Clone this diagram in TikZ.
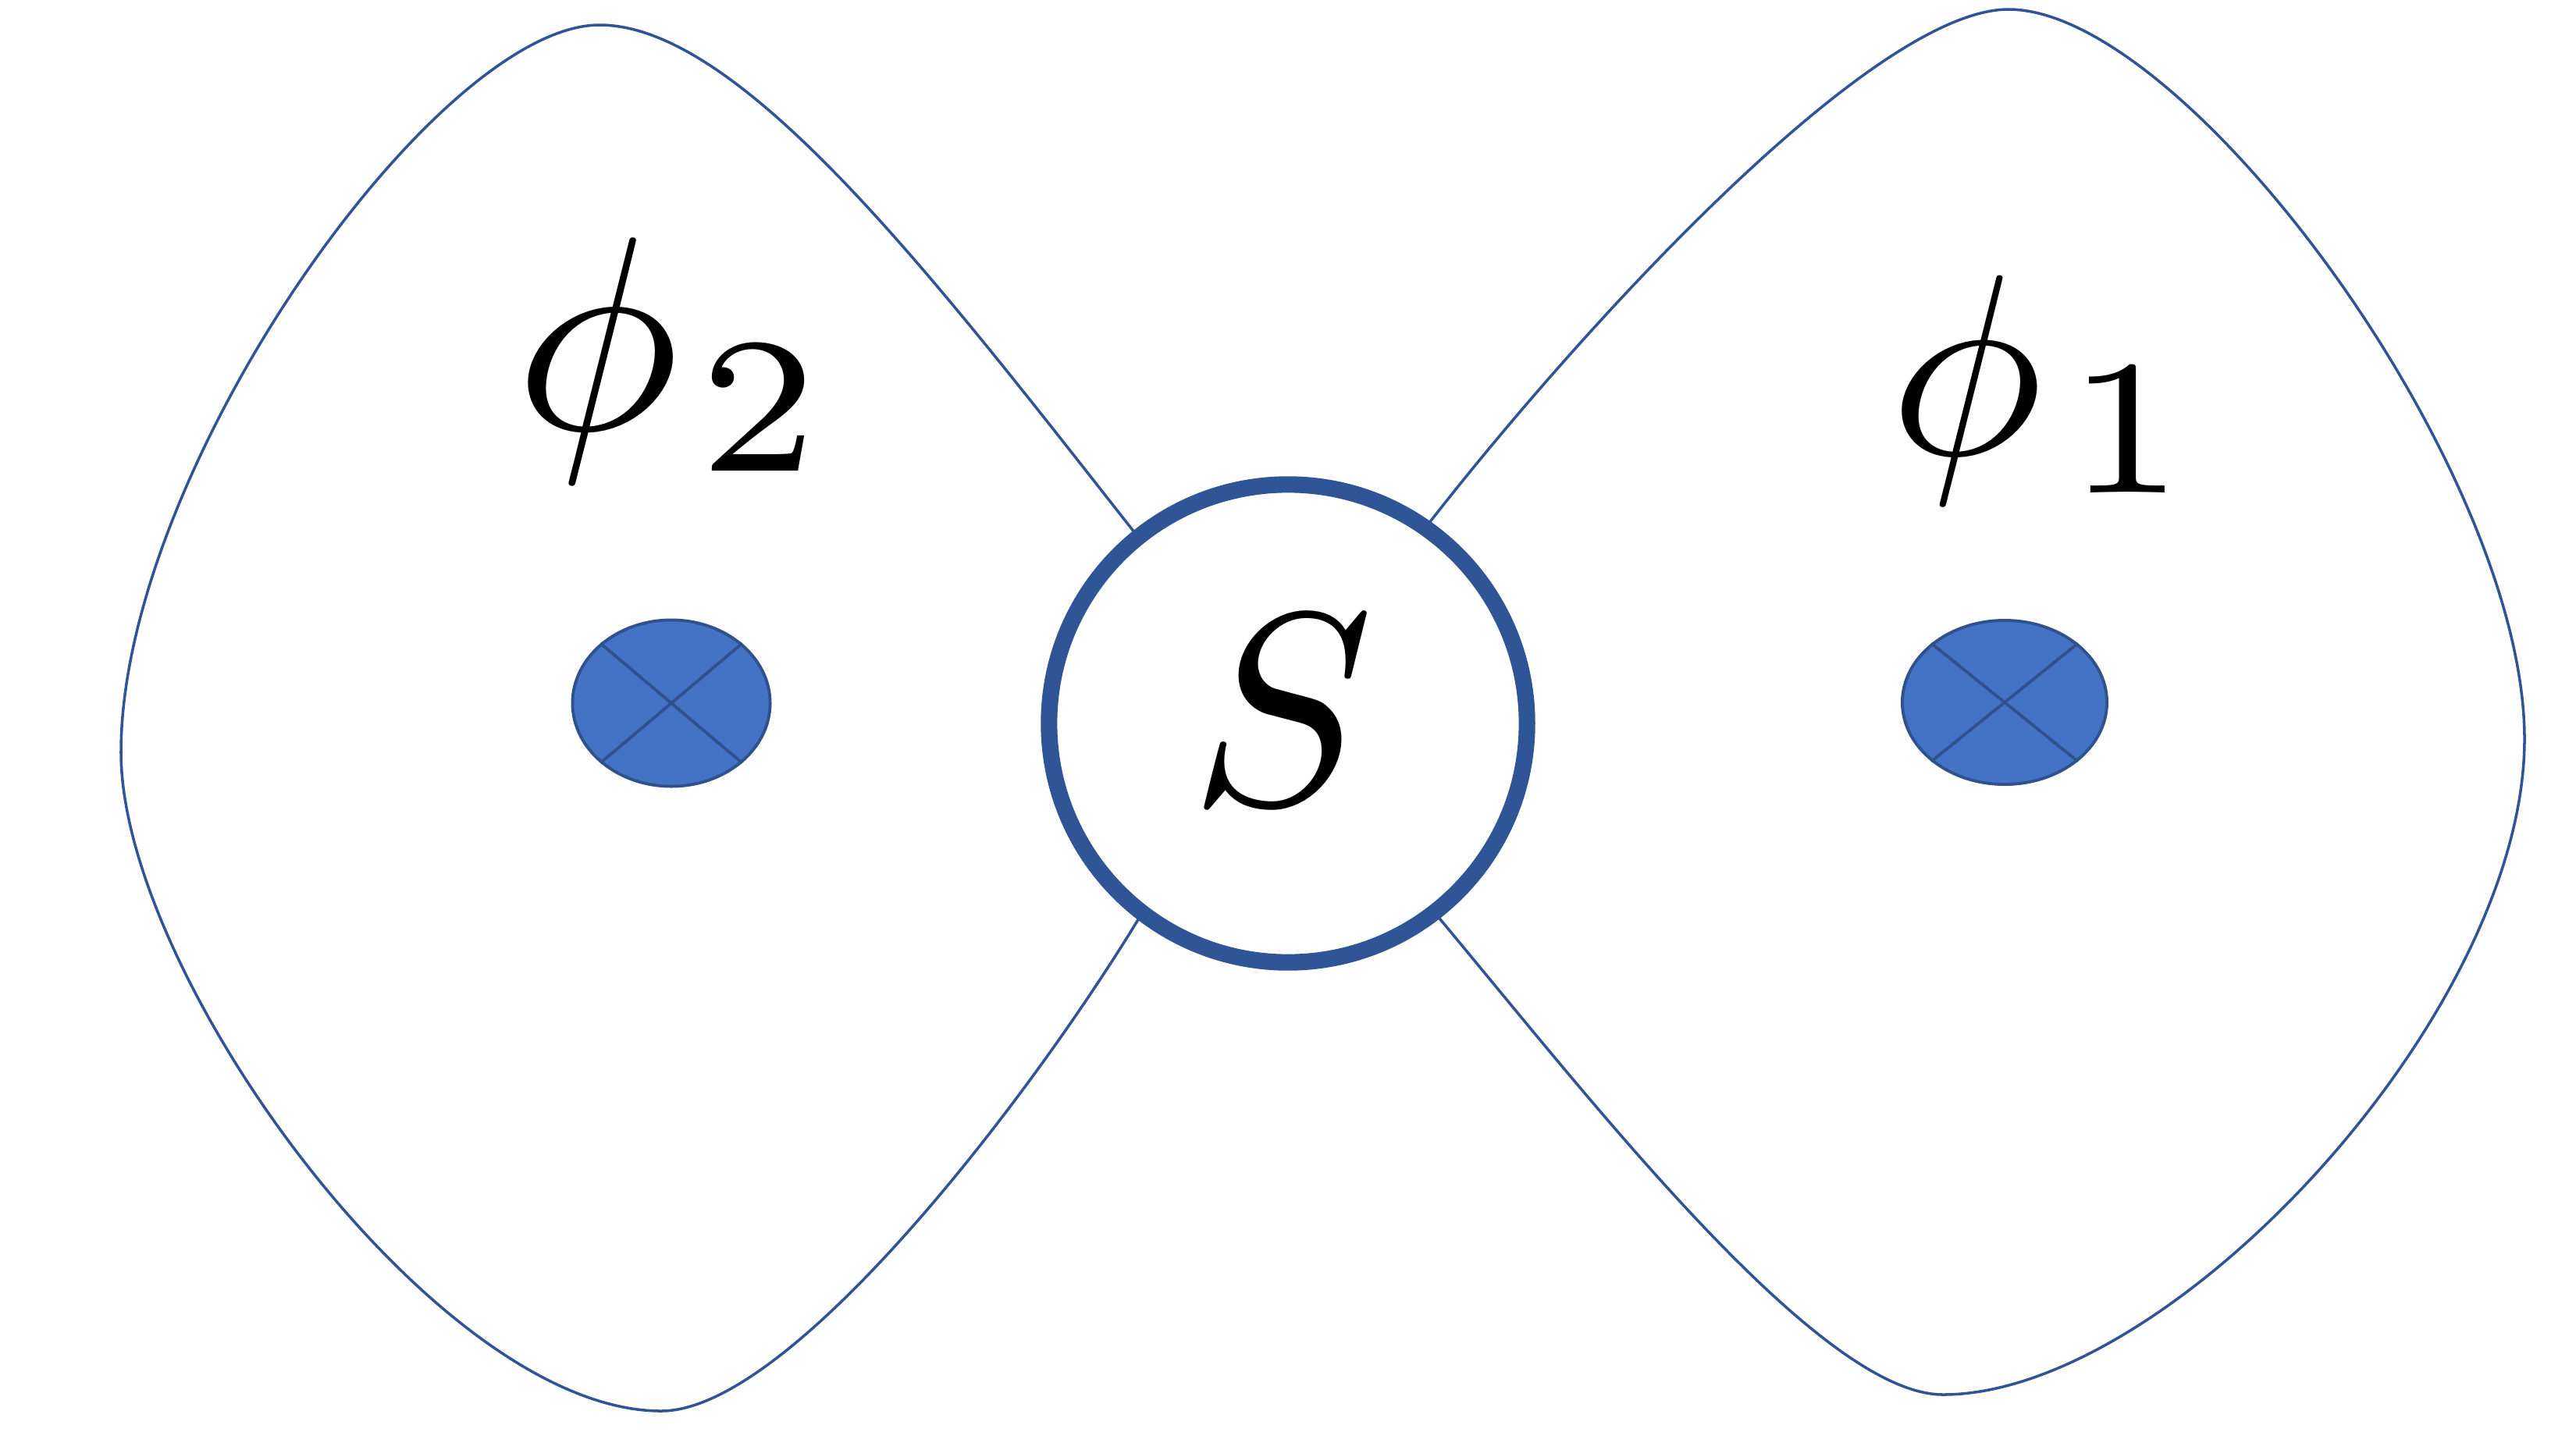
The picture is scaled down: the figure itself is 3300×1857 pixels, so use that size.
\documentclass[tikz,border=0pt]{standalone}
\usepackage{graphicx}
\usetikzlibrary{shapes.geometric}
\definecolor{lobeblue}{RGB}{47,85,151}
\definecolor{dotfill}{RGB}{68,114,196}
\definecolor{dotedge}{RGB}{47,82,143}
\begin{document}
\begin{tikzpicture}[x=0.01cm,y=-0.01cm,
  lobe/.style={draw=lobeblue,line width=1pt},
  dot/.style={ellipse,draw=dotedge,fill=dotfill,line width=1.1pt,inner sep=0pt},
  crossline/.style={draw=dotedge,line width=1.1pt},
  ring/.style={circle,draw=lobeblue,fill=white,line width=6pt,inner sep=0pt,minimum size=6.12cm},
  lbl/.style={inner sep=0pt,anchor=base west}]
\useasboundingbox (0,0) rectangle (3300,1857);
% left lobe
\draw[lobe] (1560,820) -- (1450,678) .. controls (1200,360) and (950,32) .. (768,32)
  .. controls (560,32) and (155,600) .. (155,964)
  .. controls (155,1250) and (560,1808) .. (847,1808)
  .. controls (1010,1808) and (1311,1419) .. (1457,1180) -- (1560,1012);
% right lobe
\draw[lobe] (1760,761) -- (1834,666) .. controls (2031,414) and (2400,12) .. (2573,12)
  .. controls (2800,12) and (3234,600) .. (3234,947)
  .. controls (3234,1300) and (2780,1787) .. (2489,1787)
  .. controls (2330,1787) and (2037,1408) .. (1845,1178) -- (1768,1086);
% dots
\node[dot,minimum width=2.53cm,minimum height=2.13cm] (e2) at (860,901) {};
\draw[crossline] (e2.north west) -- (e2.south east) (e2.north east) -- (e2.south west);
\node[dot,minimum width=2.62cm,minimum height=2.10cm] (e1) at (2568,900) {};
\draw[crossline] (e1.north west) -- (e1.south east) (e1.north east) -- (e1.south west);
% ring
\node[ring] (ring) at (1650,927) {};
\node[lbl] (s) at (1524,1030) {\scalebox{10}{$S$}};
% labels
\node[lbl] (p2) at (659,550) {\scalebox{10.07}{$\phi_{\kern0.7pt\scalebox{1.08}[1]{$\scriptstyle 2$}}$}};
\node[lbl] (p1) at (2420,582) {\scalebox{9.4}{$\phi_{\kern0.9pt\scalebox{1.15}[1.07]{$\scriptstyle 1$}}$}};
\end{tikzpicture}
\end{document}
